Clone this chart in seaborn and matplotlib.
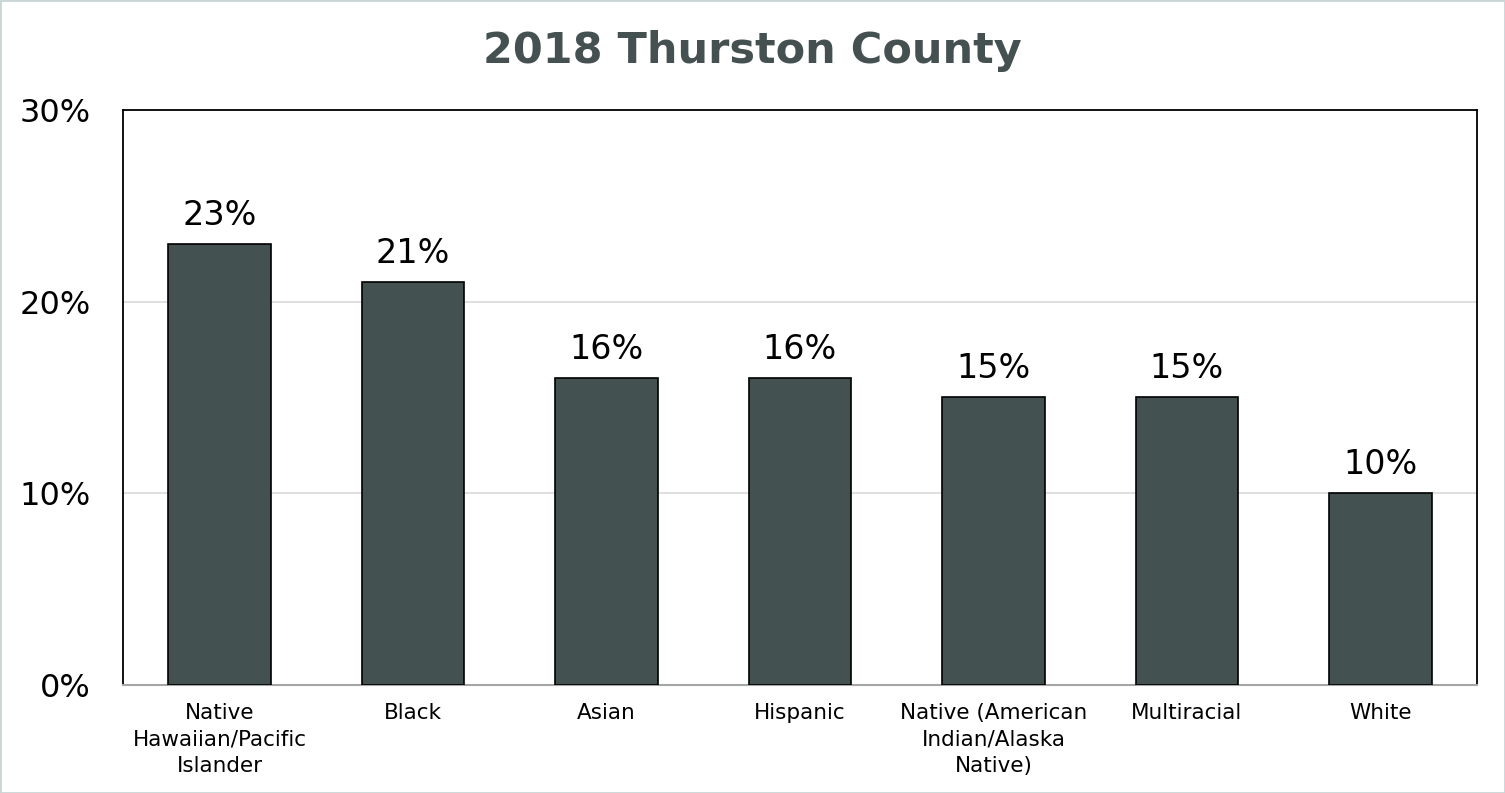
import matplotlib
matplotlib.use("Agg")
import matplotlib.pyplot as plt
import pandas as pd
import seaborn as sns
from matplotlib.patches import Rectangle
from matplotlib.ticker import FuncFormatter

categories = [
    "Native\nHawaiian/Pacific\nIslander",
    "Black",
    "Asian",
    "Hispanic",
    "Native (American\nIndian/Alaska\nNative)",
    "Multiracial",
    "White",
]
values = [23, 21, 16, 16, 15, 15, 10]
title = "2018 Thurston County"

bar_color = "#435150"
title_color = "#445150"

df = pd.DataFrame({"group": categories, "pct": values})

sns.set_theme(style="white")
plt.rcParams["font.family"] = ["DejaVu Sans"]

fig = plt.figure(figsize=(15.05, 7.93), dpi=100)
ax = fig.add_axes([0.0817, 0.1362, 0.8997, 0.7251])

sns.barplot(data=df, x="group", y="pct", color=bar_color, width=0.53,
            edgecolor="black", linewidth=1.2, saturation=1, ax=ax, zorder=3)

ax.set_ylim(0, 30)
ax.set_xlim(-0.5, len(categories) - 0.5)
ax.set_yticks([0, 10, 20, 30])
ax.yaxis.set_major_formatter(FuncFormatter(lambda v, _: f"{v:.0f}%"))
ax.yaxis.grid(True, color="#d9d9d9", linewidth=1.2, zorder=0)
ax.set_axisbelow(True)
ax.set_xlabel("")
ax.set_ylabel("")
ax.tick_params(axis="y", labelsize=23, pad=23, length=0, colors="black")
ax.tick_params(axis="x", labelsize=15.5, pad=13, length=0, colors="black")
for lbl in ax.get_xticklabels():
    lbl.set_linespacing(1.4)

for side in ["left", "top", "right"]:
    ax.spines[side].set_color("black")
    ax.spines[side].set_linewidth(1.3)
ax.spines["bottom"].set_color("#a6a6a6")
ax.spines["bottom"].set_linewidth(1.5)

for container in ax.containers:
    ax.bar_label(container, labels=[f"{v}%" for v in values], fontsize=24,
                 padding=9, color="black")

fig.suptitle(title, fontsize=31, fontweight="bold", color=title_color, y=0.962)

fig.patches.append(Rectangle((0, 0), 1, 1, transform=fig.transFigure,
                             fill=False, edgecolor="#c9d6d6", linewidth=2))

fig.savefig("out.png", dpi=100)
